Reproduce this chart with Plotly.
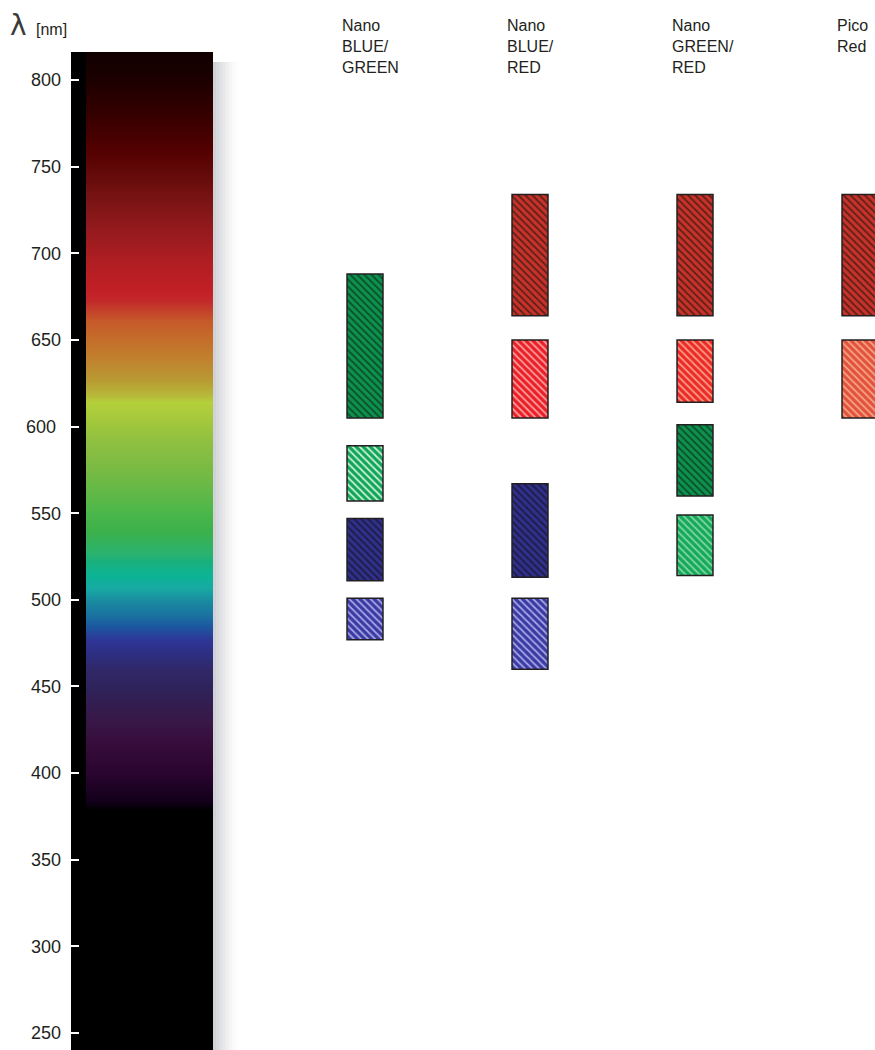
import plotly.graph_objects as go

# ---------------- data ----------------
COLUMN_LABELS = ["Nano<br>BLUE/<br>GREEN", "Nano<br>BLUE/<br>RED", "Nano<br>GREEN/<br>RED", "Pico<br>Red"]

# filter bands: column index, lower / upper wavelength (nm), band kind
BAND_COLUMN = [0, 0, 0, 0, 1, 1, 1, 1, 2, 2, 2, 2, 3, 3]
BAND_LOW = [605, 557, 511, 477, 664, 605, 513, 460, 664, 614, 560, 514, 664, 605]
BAND_HIGH = [688, 589, 547, 501, 734, 650, 567, 501, 734, 650, 601, 549, 734, 650]
BAND_KIND = ["green_dark", "green_light", "blue_dark", "blue_light",
             "red_dark", "red_light", "blue_dark", "blue_light",
             "red_dark", "red_light2", "green_dark", "green_light2",
             "red_dark", "salmon"]

Y_TICKS = [250, 300, 350, 400, 450, 500, 550, 600, 650, 700, 750, 800]
Y_TICK_TEXT = ["250", "300", "350", "400", "450", "500", "550", "600 ", "650", "700", "750", "800"]

# spectrum colour stops (wavelength nm -> colour)
SPECTRUM_NM = [236, 379, 384, 399, 416, 431, 448, 460, 468, 477, 485, 491, 500, 506,
               514, 523, 526, 540, 549, 558, 575, 592, 604, 614, 618, 627, 638, 650,
               661, 673, 679, 696, 713, 731, 748, 760, 777, 800, 820]
SPECTRUM_COLORS = ["#000000", "#000000", "#12001a", "#28042e", "#360c3a", "#381848",
                   "#2e2258", "#302868", "#2e2e80", "#2e3596", "#1c58a0", "#1a72a0",
                   "#1a8ca0", "#18a8a4", "#0cb496", "#1ab07a", "#28b272", "#3cb14a",
                   "#48b64a", "#5ab848", "#78ba44", "#90c040", "#a4c83c", "#b4d03a",
                   "#b8b83a", "#b89a32", "#c0842e", "#c46e2a", "#c65a2a", "#c2282a",
                   "#c21f26", "#ae1e22", "#961a1e", "#7a1414", "#620808", "#520000",
                   "#3a0000", "#1c0000", "#0e0000"]

# ---------------- styles ----------------
KIND_STYLE = {
    "green_dark":   dict(bg="#0d924e", fg="#0b4e2c"),
    "green_light":  dict(bg="#10a558", fg="#c8f0d4"),
    "green_light2": dict(bg="#14a85c", fg="#7fd69c"),
    "blue_dark":    dict(bg="#30308a", fg="#1c1c48"),
    "blue_light":   dict(bg="#3a3aa2", fg="#a4a4e6"),
    "red_dark":     dict(bg="#c8322a", fg="#5e2018"),
    "red_light":    dict(bg="#ea1f26", fg="#ff9c9c"),
    "red_light2":   dict(bg="#ea2a28", fg="#ff9a80"),
    "salmon":       dict(bg="#e2523a", fg="#f5a386"),
}

W, H = 875, 1050
ML, MT = 71, 52
PW, PH = W - ML, H - MT

def paper_x(px):
    return (px - ML) / PW

def paper_y(py):
    return 1 - (py - MT) / PH

Y_RANGE = [240.2, 816.2]

fig = go.Figure()

# ---- spectrum strip (heatmap on x/y) ----
zmin, zmax = SPECTRUM_NM[0], SPECTRUM_NM[-1]
colorscale = [[(nm - zmin) / (zmax - zmin), c] for nm, c in zip(SPECTRUM_NM, SPECTRUM_COLORS)]
fig.add_trace(go.Heatmap(
    x=[0, 1], y=SPECTRUM_NM, z=[[nm, nm] for nm in SPECTRUM_NM],
    zmin=zmin, zmax=zmax, colorscale=colorscale, zsmooth="best",
    showscale=False, hoverinfo="skip", xaxis="x", yaxis="y"))

# ---- filter bands (floating bars on x2/y) ----
for col, lo, hi, kind in zip(BAND_COLUMN, BAND_LOW, BAND_HIGH, BAND_KIND):
    st = KIND_STYLE[kind]
    fig.add_trace(go.Bar(
        x=[col], y=[hi - lo], base=[lo], width=0.218,
        xaxis="x2", yaxis="y",
        marker=dict(color=st["bg"],
                    line=dict(color="#231f20", width=1.5),
                    pattern=dict(shape="\\", fgcolor=st["fg"], bgcolor=st["bg"],
                                 size=5, solidity=0.35, fillmode="replace")),
        showlegend=False, hoverinfo="skip"))

strip_right = paper_x(213)
shapes = [dict(type="rect", xref="paper", yref="paper", x0=0, x1=strip_right,
               y0=0, y1=1, fillcolor="black", line=dict(width=0), layer="below")]
# soft shadow on the right of the strip
for i, a in enumerate([0.6, 0.5, 0.4, 0.3, 0.21, 0.13, 0.07, 0.03]):
    shapes.append(dict(type="rect", xref="paper", yref="paper",
                       x0=paper_x(213 + 3.2 * i), x1=paper_x(213 + 3.2 * (i + 1)),
                       y0=0, y1=paper_y(62), fillcolor=f"rgba(178,180,188,{a})",
                       line=dict(width=0), layer="below"))

annotations = []
for i, lab in enumerate(COLUMN_LABELS):
    annotations.append(dict(x=i, y=paper_y(15), xref="x2", yref="paper", text=lab,
                            showarrow=False, xanchor="left", yanchor="top", align="left",
                            xshift=-25,
                            font=dict(family="Liberation Sans, Arial, sans-serif",
                                      size=16, color="#231f20")))
annotations.append(dict(x=paper_x(8), y=paper_y(25), xref="paper", yref="paper",
                        text="λ", showarrow=False, xanchor="left", yanchor="middle",
                        font=dict(family="DejaVu Sans, sans-serif", size=28, color="#3a3a3a")))
annotations.append(dict(x=paper_x(34), y=paper_y(29), xref="paper", yref="paper",
                        text="[nm]", showarrow=False, xanchor="left", yanchor="middle",
                        font=dict(family="Liberation Sans, Arial, sans-serif", size=16,
                                  color="#231f20")))

# x range so that the heatmap fills 86..213 px of the 71..213 domain
dom_w = 213 - ML
unit = (213 - 86) / 2.0
x1_range = [1.5 - dom_w / unit, 1.5]

# category axis for bands: centers near 365 + 165*i px
slope = 165.0
c0 = 365.0
x2_range = [-(c0 - ML) / slope, -(c0 - ML) / slope + PW / slope]

fig.update_layout(
    width=W, height=H,
    margin=dict(l=ML, r=0, t=MT, b=0, pad=0),
    paper_bgcolor="white", plot_bgcolor="rgba(0,0,0,0)",
    barmode="overlay",
    xaxis=dict(domain=[0, strip_right], range=x1_range, visible=False, fixedrange=True),
    xaxis2=dict(domain=[0, 1], range=x2_range, visible=False, anchor="y",
                fixedrange=True),
    yaxis=dict(range=Y_RANGE, tickvals=Y_TICKS, ticktext=Y_TICK_TEXT,
               ticks="inside", ticklen=8, tickwidth=2, tickcolor="white",
               showgrid=False, zeroline=False, showline=False,
               ticklabelstandoff=9,
               tickfont=dict(family="Liberation Sans, Arial, sans-serif", size=18,
                             color="#231f20"),
               anchor="x", fixedrange=True),
    shapes=shapes, annotations=annotations,
)

fig.write_html("out.html", config={"displayModeBar": False},
               post_script="document.body.style.margin='0';")
